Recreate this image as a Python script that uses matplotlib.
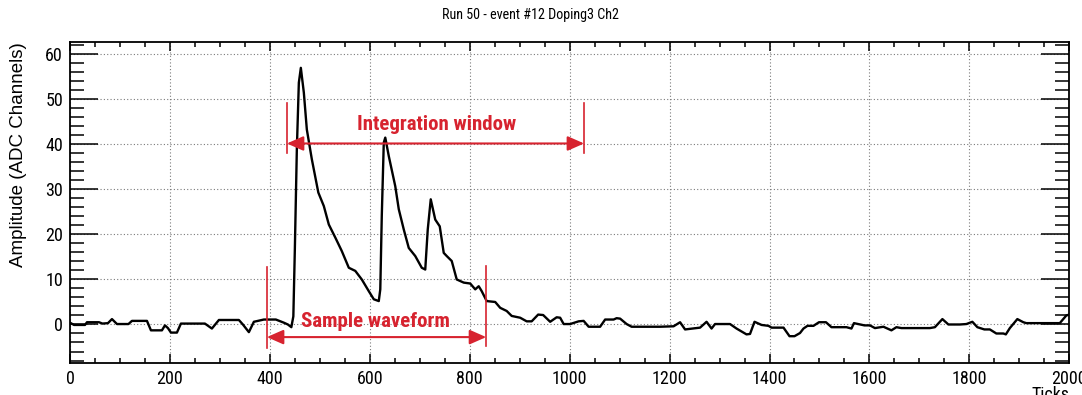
import matplotlib
matplotlib.use("Agg")
import matplotlib.pyplot as plt
from matplotlib import font_manager
from matplotlib.ticker import MultipleLocator

# Waveform samples: tick number and amplitude in ADC channels
ticks = [0, 8, 30, 34, 58, 65, 76, 84, 94, 117, 124, 154, 162, 184, 190, 196,
         202, 214, 222, 270, 284, 298, 338, 346, 358, 368, 388, 412, 428, 436,
         443, 447, 450, 454, 458, 462, 468, 474, 484, 497, 508, 518, 531, 544,
         558, 571, 584, 598, 608, 618, 621, 624, 628, 631, 638, 651, 658, 668,
         678, 691, 704, 711, 716, 722, 728, 731, 740, 748, 754, 764, 774, 788,
         801, 811, 818, 824, 834, 851, 861, 874, 884, 901, 914, 924, 937, 947,
         961, 974, 981, 988, 1001, 1018, 1028, 1038, 1061, 1071, 1088, 1094,
         1101, 1114, 1124, 1181, 1208, 1221, 1231, 1261, 1274, 1284, 1291,
         1321, 1334, 1354, 1361, 1370, 1384, 1398, 1404, 1428, 1440, 1450,
         1461, 1468, 1476, 1488, 1499, 1513, 1524, 1554, 1564, 1569, 1590,
         1601, 1611, 1628, 1644, 1654, 1664, 1721, 1731, 1746, 1758, 1781,
         1794, 1806, 1816, 1830, 1841, 1854, 1868, 1873, 1881, 1896, 1908,
         1914, 1981, 1994, 2000]
amplitude = [0.4, -0.1, -0.1, 0.5, 0.5, 0.2, 0.3, 1.2, 0.1, 0.1, 0.8, 0.8,
             -1.3, -1.3, -0.2, -0.8, -1.8, -1.8, 0.2, 0.2, -0.9, 1.0, 1.0, 0.0,
             -1.7, 0.6, 1.1, 1.1, 0.4, 0.0, -0.6, 1.8, 16.7, 38.9, 53.7, 57.0,
             51.5, 43.3, 36.7, 29.3, 26.3, 22.2, 19.3, 16.3, 12.6, 11.9, 10.0,
             7.4, 5.6, 5.2, 7.8, 24.1, 40.4, 41.5, 37.4, 30.7, 25.6, 21.1, 17.0,
             15.2, 12.6, 12.2, 21.1, 27.8, 24.8, 23.3, 21.8, 15.9, 15.2, 14.1,
             10.0, 9.3, 9.1, 7.8, 8.5, 7.4, 5.2, 5.0, 3.7, 3.0, 1.9, 1.5, 0.7,
             0.7, 2.2, 2.1, 0.6, 1.6, 1.5, 0.1, 0.1, 0.7, 0.8, -0.5, -0.5, 1.1,
             1.1, 1.4, 1.3, 0.1, -0.5, -0.5, -0.4, 0.5, -1.1, -0.7, 0.6, -0.9,
             0.1, 0.1, -0.9, -2.2, -2.1, 0.6, -0.1, -0.3, -0.7, -0.7, -2.6,
             -2.6, -1.9, -0.9, -0.3, -0.3, 0.5, 0.5, -0.6, -0.6, -0.9, 0.3,
             -0.2, -0.2, -0.8, -0.5, -1.3, -0.6, -0.8, -0.8, -0.6, 1.2, 0.0,
             0.0, 0.1, 0.6, -0.6, -1.1, -1.1, -2.0, -2.0, -2.2, -0.8, 1.2, 0.5,
             0.3, 0.3, 2.0, 2.2]

# Annotated ranges (ticks)
integration_window = (434, 1029)
sample_waveform = (394, 833)

title = "Run 50 - event #12 Doping3 Ch2"
xlabel = "Ticks"
ylabel = "Amplitude (ADC Channels)"

RED = "#d7232f"

installed = {f.name for f in font_manager.fontManager.ttflist}
narrow = next((n for n in ["Liberation Sans Narrow", "Roboto Condensed",
                           "Open Sans Condensed"] if n in installed), None)
if narrow is None:
    narrow, scale = "Liberation Sans", 0.82
else:
    scale = 1.0
plt.rcParams["font.family"] = [narrow, "DejaVu Sans"]

fig = plt.figure(figsize=(10.82, 3.95), dpi=100)
ax = fig.add_axes([70 / 1082, 1 - 363.3 / 395, 999.3 / 1082, 321 / 395])

ax.plot(ticks, amplitude, color="black", lw=1.7, solid_joinstyle="round")

ax.set_xlim(0, 2000)
ax.set_ylim(-8.62, 62.67)

ax.xaxis.set_major_locator(MultipleLocator(200))
ax.xaxis.set_minor_locator(MultipleLocator(50))
ax.yaxis.set_major_locator(MultipleLocator(10))
ax.yaxis.set_minor_locator(MultipleLocator(2))

ax.tick_params(axis="both", which="both", direction="in", top=True,
               right=True, width=1.1, color="black")
ax.tick_params(axis="x", which="major", length=6.5, pad=4.5,
               labelsize=13 * scale)
ax.tick_params(axis="x", which="minor", length=3.6)
ax.tick_params(axis="y", which="major", length=20, pad=5,
               labelsize=13 * scale)
ax.tick_params(axis="y", which="minor", length=10)

for s in ax.spines.values():
    s.set_linewidth(1.3)

ax.grid(True, which="major", color="#7a7a7a", lw=0.8, linestyle=(0, (1, 2)))
ax.set_axisbelow(True)

fig.text(530 / 1082, 1 - 15 / 395, title, ha="center", va="center",
         fontsize=10.2 * scale)

ax.set_ylabel(ylabel, loc="top", fontsize=13.5, family="Liberation Sans")
ax.yaxis.set_label_coords(-0.043, 1.0)
ax.set_xlabel(xlabel, loc="right", fontsize=13 * scale)
ax.xaxis.set_label_coords(1.0, -0.072)

# Integration window marker
x0, x1 = integration_window
ax.plot([x0, x0], [38.1, 49.2], color=RED, lw=1.2)
ax.plot([x1, x1], [38.1, 49.2], color=RED, lw=1.2)
ax.annotate("", xy=(x0, 40.2), xytext=(x1, 40.2),
            arrowprops=dict(arrowstyle="<|-|>,head_length=0.5,head_width=0.22",
                            color=RED, lw=1.5, mutation_scale=20,
                            shrinkA=0, shrinkB=0))
ax.text(734, 43.2, "Integration window", color=RED, fontsize=15 * scale,
        fontweight="bold", ha="center", va="baseline")

# Sample waveform marker
s0, s1 = sample_waveform
ax.plot([s0, s0], [-5.2, 12.8], color=RED, lw=1.2)
ax.plot([s1, s1], [-4.8, 13.0], color=RED, lw=1.2)
ax.annotate("", xy=(s0, -2.8), xytext=(s1, -2.8),
            arrowprops=dict(arrowstyle="<|-|>,head_length=0.5,head_width=0.22",
                            color=RED, lw=1.5, mutation_scale=20,
                            shrinkA=0, shrinkB=0))
ax.text(612, -0.5, "Sample waveform", color=RED, fontsize=15 * scale,
        fontweight="bold", ha="center", va="baseline")

fig.savefig("out.png", dpi=100)
